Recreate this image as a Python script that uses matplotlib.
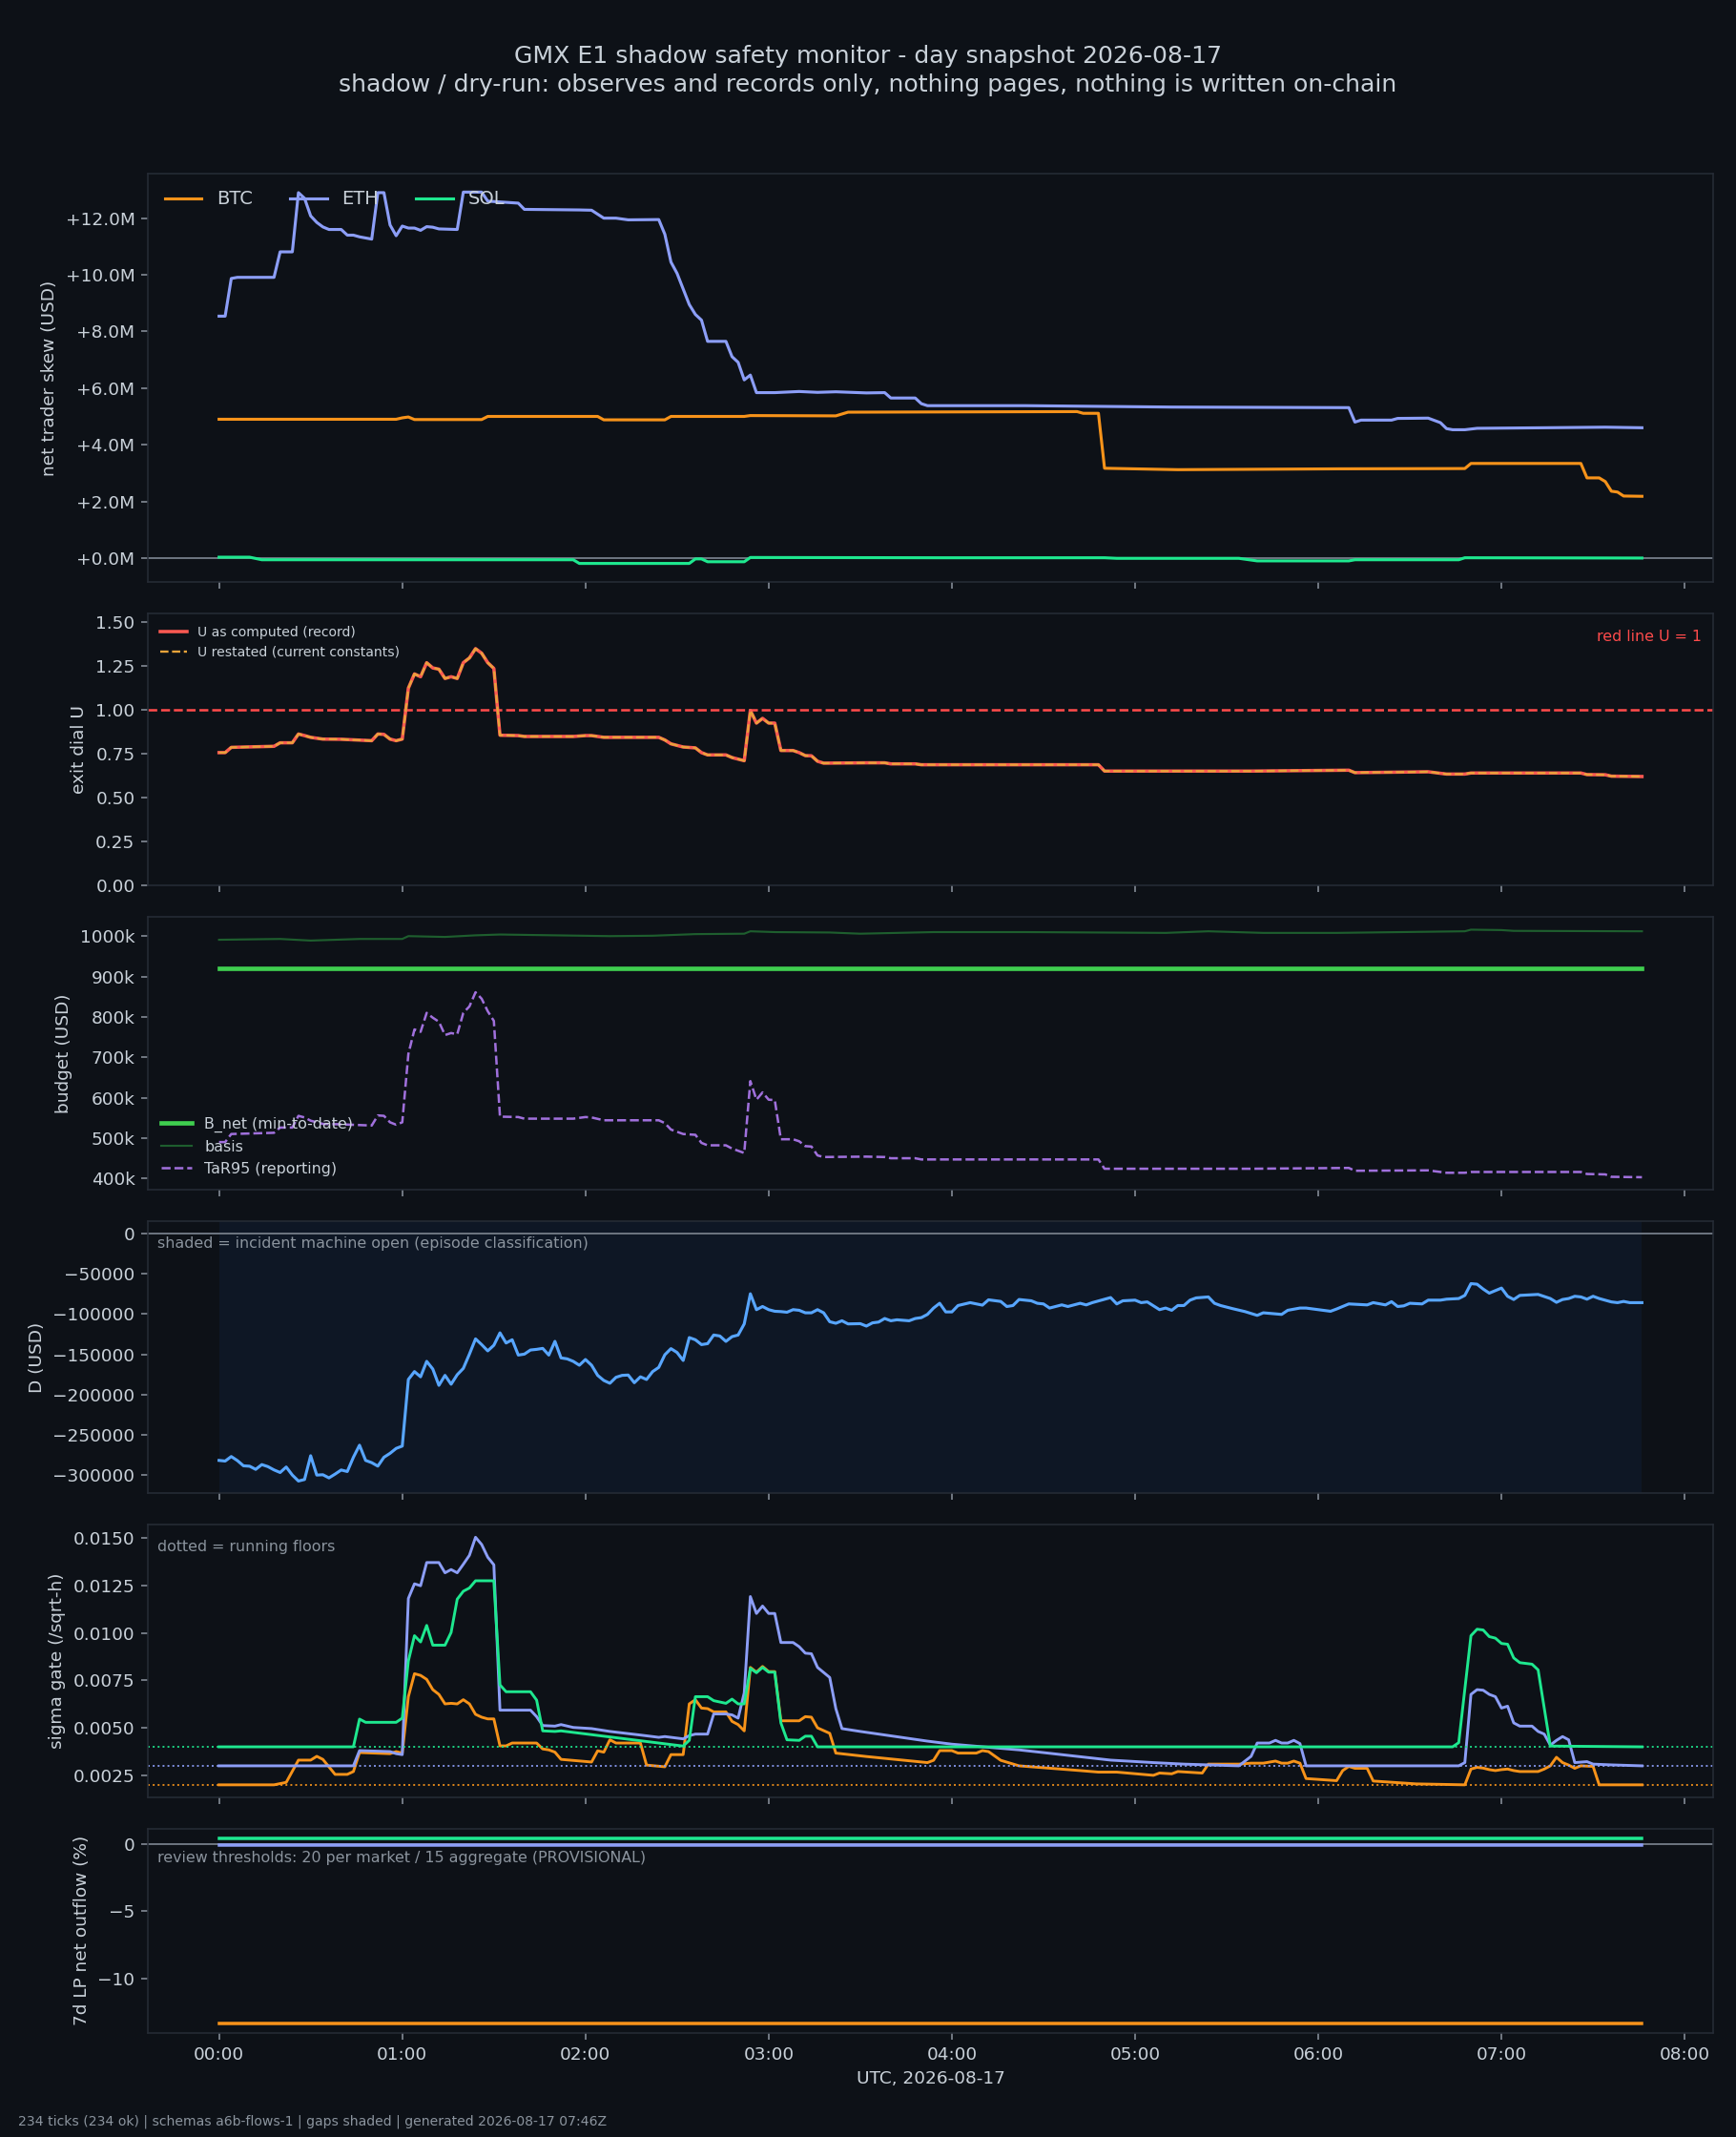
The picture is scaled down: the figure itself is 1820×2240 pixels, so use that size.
import pandas as pd
import matplotlib
matplotlib.use("Agg")
import matplotlib.pyplot as plt
import matplotlib.dates as mdates
from matplotlib.ticker import FuncFormatter

DAY = "2026-08-17"

# net trader skew, USD millions
skew_btc_t = [0, 58, 60, 62, 64, 86, 88, 124, 126, 146, 148, 172, 174, 202, 206, 281, 283,
              288, 290, 314, 367, 408, 410, 446, 448, 452, 454, 456, 458, 460, 466]
skew_btc = [4.9, 4.9, 4.95, 4.98, 4.89, 4.89, 5.0, 5.0, 4.88, 4.88, 5.0, 5.0, 5.03, 5.02, 5.15,
            5.17, 5.11, 5.11, 3.17, 3.12, 3.15, 3.16, 3.34, 3.34, 2.83, 2.83, 2.70, 2.36, 2.33,
            2.19, 2.18]
skew_eth_t = [0, 2, 4, 6, 18, 20, 24, 26, 28, 30, 32, 34, 36, 40, 42, 44, 46, 50, 52, 54, 56,
              58, 60, 62, 64, 66, 68, 70, 72, 78, 80, 86, 88, 98, 100, 118, 122, 126, 130, 134,
              144, 146, 148, 150, 152, 154, 156, 158, 160, 166, 168, 170, 172, 174, 176, 182,
              190, 196, 202, 212, 218, 220, 228, 230, 232, 264, 312, 370, 372, 374, 384, 386,
              396, 400, 402, 404, 408, 412, 434, 454, 466]
skew_eth = [8.54, 8.54, 9.87, 9.91, 9.91, 10.81, 10.81, 12.9, 12.7, 12.08, 11.85, 11.69, 11.6,
            11.6, 11.4, 11.4, 11.34, 11.26, 12.9, 12.9, 11.76, 11.38, 11.72, 11.65, 11.65, 11.57,
            11.7, 11.68, 11.62, 11.6, 12.92, 12.92, 12.6, 12.53, 12.31, 12.29, 12.28, 12.0, 12.0,
            11.94, 11.95, 11.43, 10.45, 10.05, 9.5, 8.95, 8.6, 8.4, 7.65, 7.65, 7.11, 6.91, 6.29,
            6.46, 5.84, 5.84, 5.88, 5.85, 5.87, 5.83, 5.84, 5.65, 5.65, 5.45, 5.38, 5.38, 5.33,
            5.31, 4.80, 4.87, 4.87, 4.93, 4.94, 4.78, 4.57, 4.53, 4.53, 4.58, 4.6, 4.62, 4.6]
skew_sol_t = [0, 10, 14, 116, 118, 154, 156, 158, 160, 172, 174, 236, 290, 294, 334, 340, 370,
              372, 406, 408, 466]
skew_sol = [0.03, 0.03, -0.06, -0.06, -0.19, -0.19, -0.03, -0.03, -0.13, -0.13, 0.02, 0.01,
            0.01, -0.01, -0.01, -0.10, -0.10, -0.06, -0.06, 0.01, 0.0]

# exit dial U and TaR95 (USD thousands) share the same breakpoints
u_t = [0, 2, 4, 18, 20, 24, 26, 28, 30, 34, 40, 50, 52, 54, 56, 58, 60, 62, 64, 66, 68, 70, 72,
       74, 76, 78, 80, 82, 84, 86, 88, 90, 92, 98, 100, 116, 120, 122, 126, 144, 146, 148, 152,
       156, 158, 160, 166, 168, 172, 174, 176, 178, 180, 182, 184, 188, 190, 192, 194, 196, 198,
       212, 218, 220, 228, 230, 288, 290, 338, 370, 372, 396, 402, 408, 410, 446, 448, 454, 456,
       466]
u_record = [0.758, 0.758, 0.788, 0.794, 0.814, 0.814, 0.864, 0.855, 0.845, 0.835,
            0.834, 0.826, 0.864, 0.862, 0.835, 0.826, 0.835, 1.125, 1.206, 1.19,
            1.27, 1.24, 1.233, 1.18, 1.19, 1.18, 1.27, 1.297, 1.35, 1.324,
            1.27, 1.237, 0.857, 0.855, 0.85, 0.85, 0.855, 0.855, 0.845, 0.845,
            0.83, 0.808, 0.79, 0.785, 0.758, 0.745, 0.745, 0.73, 0.712, 0.998,
            0.926, 0.953, 0.926, 0.926, 0.77, 0.77, 0.758, 0.741, 0.74, 0.709,
            0.698, 0.70, 0.70, 0.694, 0.694, 0.689, 0.689, 0.653, 0.653, 0.658,
            0.644, 0.649, 0.636, 0.636, 0.642, 0.642, 0.633, 0.632, 0.624, 0.622]
u_restated = list(u_record)  # restated values coincide with the record on this day
tar95_k = [490, 490, 510, 513, 526, 526, 555, 551, 543, 535,
           534, 531, 556, 555, 539, 533, 539, 708, 769, 763,
           810, 798, 788, 755, 760, 757, 810, 826, 861, 845,
           814, 790, 553, 552, 548, 548, 552, 551, 544, 544,
           537, 521, 510, 508, 488, 482, 482, 474, 463, 641,
           595, 613, 595, 594, 497, 497, 492, 480, 479, 457,
           453, 454, 453, 450, 450, 447, 447, 424, 424, 426,
           419, 420, 414, 414, 416, 416, 411, 410, 404, 403]

# budget, USD thousands
bnet_t = [0, 466]
bnet_k = [920, 920]
basis_t = [0, 20, 30, 46, 60, 62, 74, 84, 92, 110, 128, 142, 156, 172, 174, 182, 200, 210, 234,
           264, 310, 324, 342, 366, 408, 410, 420, 424, 466]
basis_k = [991, 993, 989, 993, 993, 1000, 998, 1002, 1004, 1002, 1000, 1001, 1005, 1006, 1012,
           1010, 1009, 1006, 1010, 1010, 1008, 1012, 1008, 1008, 1012, 1016, 1015, 1013, 1012]

# D, USD thousands
d_t = [0, 2, 4, 6, 8, 10, 12, 14, 16, 18, 20, 22, 24, 26, 28, 30, 32, 34, 36, 38, 40, 42, 44,
       46, 48, 50, 52, 54, 56, 58, 60, 62, 64, 66, 68, 70, 72, 74, 76, 78, 80, 82, 84, 86, 88,
       90, 92, 94, 96, 98, 100, 102, 104, 106, 108, 110, 112, 114, 116, 118, 120, 122, 124, 126,
       128, 130, 132, 134, 136, 138, 140, 142, 144, 146, 148, 150, 152, 154, 156, 158, 160, 162,
       164, 166, 168, 170, 172, 174, 176, 178, 180, 182, 184, 186, 188, 190, 192, 194, 196, 198,
       200, 202, 204, 206, 210, 212, 214, 216, 218, 220, 222, 226, 228, 230, 232, 234, 236, 238,
       240, 242, 246, 250, 252, 256, 258, 260, 262, 266, 268, 270, 272, 274, 276, 278, 282, 284,
       286, 292, 294, 296, 300, 302, 304, 308, 310, 312, 314, 316, 318, 320, 324, 326, 328, 332,
       336, 340, 342, 348, 350, 354, 356, 364, 366, 370, 376, 378, 382, 384, 386, 388, 390, 394,
       396, 400, 402, 406, 408, 410, 412, 414, 416, 420, 422, 424, 426, 432, 436, 438, 440, 442,
       444, 446, 448, 450, 452, 456, 458, 460, 462, 466]
d_k = [-281.8, -282.6, -277, -282, -288.5, -289, -292.9, -287, -289.5, -293.6, -296.8, -290,
       -300, -307.4, -305.5, -276, -300, -299.6, -303.5, -298.8, -293.7, -295.6, -277.9, -262.9,
       -281.8, -284.6, -288.9, -277.9, -273, -266.9, -264, -181.3, -171.5, -178, -158.8, -168.3,
       -188.6, -176.2, -187.2, -175.4, -167.5, -149.8, -130.9, -138, -145.8, -138.8, -123.4,
       -136, -132, -151, -149.8, -144.7, -143.9, -142.7, -151, -134, -154.5, -155.7, -158.8,
       -163.6, -156.5, -163.6, -176.2, -182.5, -186, -178.6, -176.2, -175.8, -185.3, -178,
       -181.3, -171.5, -166.3, -150.6, -143, -147.8, -157.7, -129.3, -132, -138, -136.8, -126.1,
       -127.3, -134, -128.1, -126.1, -112.3, -74.9, -94.6, -90.7, -94.6, -96.6, -97, -97.8,
       -94.6, -95.4, -98.5, -98.5, -94.6, -98.5, -109.6, -111.5, -108.4, -112.3, -112, -115,
       -111, -110, -105.6, -108.4, -107.2, -108.4, -105.6, -104.5, -100.5, -92.6, -86.7, -97.4,
       -97.4, -89.5, -85.9, -89, -82.4, -84.4, -90.7, -89.5, -82, -83.6, -86.7, -87.5, -92.6,
       -90.7, -88.7, -90.7, -86.7, -88.7, -85.9, -79.6, -87.5, -83.6, -82.8, -85.9, -85, -94.6,
       -92.6, -95.4, -89.5, -89.5, -82.8, -80, -78.8, -86.7, -89.5, -93.4, -97, -101.7, -98.5,
       -100.5, -95.4, -92.6, -92.6, -96.6, -93.8, -87.5, -88.7, -85.9, -88.7, -84.7, -90.7,
       -89.9, -86.7, -87.5, -82.8, -82.8, -81.6, -80.8, -76.9, -62.3, -63, -69, -74.1, -67.8,
       -78, -82, -76.9, -75.7, -80.8, -85.5, -82, -80.8, -78, -78.8, -81.6, -78, -80.8, -85,
       -85.9, -84.4, -85.9, -85.9]
incident_open = (0, 466)

# sigma gate, units of 1e-4 per sqrt-hour
sig_btc_t = [0, 18, 22, 26, 30, 32, 34, 38, 42, 44, 46, 56, 58, 60, 62, 64, 66, 68, 70, 72, 74,
             76, 78, 80, 82, 84, 86, 88, 90, 92, 94, 96, 104, 106, 108, 110, 112, 122, 124, 126,
             128, 130, 138, 140, 146, 148, 152, 154, 156, 158, 160, 162, 166, 168, 170, 172, 174,
             176, 178, 180, 182, 184, 190, 192, 194, 196, 200, 202, 212, 232, 234, 236, 240, 242,
             248, 250, 252, 256, 262, 282, 288, 294, 306, 308, 312, 314, 322, 324, 334, 338, 342,
             346, 348, 350, 352, 354, 356, 366, 368, 370, 372, 376, 378, 392, 408, 410, 412, 414,
             416, 418, 420, 422, 424, 426, 432, 434, 436, 438, 440, 442, 444, 446, 450, 452, 466]
sig_btc = [20, 20, 21.3, 33, 33, 35, 33.4, 25.5, 25.5, 27, 37, 36.4, 37.5, 36.7, 66.4, 78.5,
           77.6, 75.5, 70.1, 67.6, 62.6, 62.9, 62.6, 64.8, 62.6, 57.1, 55.6, 54.7, 54.7, 40.5,
           40.5, 42, 42, 38.9, 38.4, 37.2, 33.4, 32, 37.9, 37.2, 43.7, 42, 42, 30.4, 29.5, 35.9,
           35.9, 62.6, 64.8, 60.4, 60.1, 58.4, 58.4, 53.4, 51.7, 48.4, 81.8, 79.3, 82.3, 79.6,
           79.6, 53.7, 53.7, 55.9, 55.6, 50, 47.1, 36.7, 34.9, 31.7, 32.9, 38, 38, 36.7, 36.7,
           38, 37.5, 32.9, 30, 27.5, 26.7, 26.7, 25, 26.2, 25.8, 27, 26.2, 30.9, 30.9, 31.4,
           31.4, 32.5, 31.4, 31.4, 32.5, 31.4, 23.3, 22.2, 27.5, 29.7, 28.7, 28.7, 22, 20.5, 20,
           28.3, 29.2, 28.8, 28, 27.5, 28, 28.3, 27.5, 27, 27, 28.3, 30, 34.5, 31.7, 30.4, 28.7,
           30, 29.7, 20, 20]
sig_eth_t = [0, 44, 46, 56, 58, 60, 62, 64, 66, 68, 72, 74, 76, 78, 80, 82, 84, 86, 88, 90, 92,
             102, 104, 106, 110, 112, 116, 122, 128, 138, 144, 146, 152, 154, 156, 160, 162, 166,
             168, 170, 172, 174, 176, 178, 180, 182, 184, 188, 190, 192, 194, 196, 200, 202, 204,
             210, 232, 240, 262, 292, 306, 316, 334, 336, 338, 340, 344, 346, 348, 350, 352, 354,
             356, 406, 408, 410, 412, 414, 416, 418, 420, 422, 424, 426, 430, 432, 434, 436, 438,
             440, 442, 444, 448, 450, 456, 466]
sig_eth = [30, 30, 38, 37.5, 36.4, 35.9, 118.1, 125.8, 124.8, 137, 137, 131.6, 133.3, 131.6,
           136.1, 140.8, 150.3, 146.5, 139.8, 135.8, 59.3, 59.3, 55.9, 51.2, 50.9, 51.7, 50.2,
           49.6, 48.1, 46.2, 45, 45.4, 44.2, 45.9, 46.7, 46.7, 57.3, 57.3, 56.8, 55.1, 68.4,
           119.1, 110.2, 114.1, 110.2, 110.2, 94.9, 94.9, 92.7, 89.3, 89, 81.8, 76.5, 60.1, 49.6,
           48.1, 43, 41.4, 38.4, 33, 31.7, 30.9, 30, 32.5, 35, 42, 42, 43.4, 42, 42, 43.4, 41.7,
           30, 30, 31.7, 67.6, 70.1, 69.8, 67.6, 66.4, 60.4, 61.4, 52.6, 50.9, 50.9, 48.1, 46.7,
           40.9, 43.4, 45.4, 43.7, 31.7, 32.2, 30.9, 30.5, 30]
sig_sol_t = [0, 44, 46, 48, 58, 60, 62, 64, 66, 68, 70, 74, 76, 78, 80, 82, 84, 90, 92, 94, 102,
             104, 106, 110, 112, 152, 154, 156, 160, 162, 166, 168, 170, 172, 174, 176, 178, 180,
             182, 184, 186, 190, 192, 194, 196, 404, 406, 410, 412, 414, 416, 418, 420, 422, 424,
             426, 430, 432, 436, 466]
sig_sol = [40, 40, 54.6, 52.9, 52.9, 55.1, 85.2, 98.5, 95.2, 103.9, 93.5, 93.5, 100.2, 117.7,
           121.9, 123.6, 127.4, 127.4, 72.6, 69, 69, 64.6, 48.4, 48.1, 48.4, 40.4, 43.4, 66.4,
           66.4, 64.3, 62.9, 65.1, 62.6, 62.6, 81.3, 79, 81.8, 79.3, 79.3, 52.6, 43.7, 43.4, 45.6,
           45.6, 40, 40, 42.2, 98.5, 101.9, 101.5, 98, 97.2, 94.4, 94, 86.8, 84.3, 83.5, 80.5,
           40.4, 40]
sig_floor = {"BTC": 20, "ETH": 30, "SOL": 40}

# 7d LP net outflow, percent (flat over the day)
lp_t = [0, 466]
lp_btc = [-13.39, -13.39]
lp_eth = [-0.07, -0.07]
lp_sol = [0.45, 0.45]

# --- styling ---
BG = "#0d1117"
FG = "#c9d1d9"
MUTED = "#8b949e"
COL = {"BTC": "#f7931a", "ETH": "#8c9ef7", "SOL": "#1ee88f"}

plt.rcParams.update({
    "figure.facecolor": BG, "axes.facecolor": BG, "savefig.facecolor": BG,
    "axes.edgecolor": "#262c36", "axes.labelcolor": FG, "text.color": FG,
    "xtick.color": MUTED, "ytick.color": MUTED,
    "xtick.labelcolor": FG, "ytick.labelcolor": FG,
    "font.size": 9.5, "legend.frameon": False,
})

base = pd.Timestamp(DAY)


def when(minutes):
    return base + pd.to_timedelta(minutes, unit="min")


fig, axes = plt.subplots(6, 1, figsize=(13, 16), dpi=140, sharex=True,
                         gridspec_kw=dict(height_ratios=[1.5, 1, 1, 1, 1, 0.75]))
fig.subplots_adjust(left=0.0852, right=0.9868, top=0.9188, bottom=0.0487, hspace=0.111)
ax1, ax2, ax3, ax4, ax5, ax6 = axes

# 1. net trader skew
ax1.axhline(0, color="#6e7681", lw=1)
ax1.plot(when(skew_btc_t), skew_btc, color=COL["BTC"], lw=1.6, label="BTC")
ax1.plot(when(skew_eth_t), skew_eth, color=COL["ETH"], lw=1.6, label="ETH")
ax1.plot(when(skew_sol_t), skew_sol, color=COL["SOL"], lw=1.6, label="SOL")
ax1.yaxis.set_major_formatter(FuncFormatter(lambda v, p: f"{v:+.1f}M"))
ax1.set_ylabel("net trader skew (USD)")
ax1.legend(loc="upper left", ncol=3, fontsize=10)

# 2. exit dial
ax2.axhline(1.0, color="#ff4b4b", lw=1.3, ls="--")
ax2.plot(when(u_t), u_record, color="#ff5a52", lw=1.8, label="U as computed (record)")
ax2.plot(when(u_t), u_restated, color="#e8a33a", lw=1.2, ls="--",
         label="U restated (current constants)")
ax2.set_ylim(0, 1.55)
ax2.set_ylabel("exit dial U")
ax2.text(0.993, 0.94, "red line U = 1", transform=ax2.transAxes, ha="right", va="top",
         color="#ff4b4b", fontsize=8.2)
ax2.legend(loc="upper left", fontsize=7.2)

# 3. budget
ax3.plot(when(bnet_t), bnet_k, color="#3fce4f", lw=2.4, label="B_net (min-to-date)")
ax3.plot(when(basis_t), basis_k, color="#1e5e2e", lw=1.1, label="basis")
ax3.plot(when(u_t), tar95_k, color="#a070dc", lw=1.3, ls="--", label="TaR95 (reporting)")
ax3.yaxis.set_major_formatter(FuncFormatter(lambda v, p: f"{v:.0f}k"))
ax3.set_ylabel("budget (USD)")
ax3.legend(loc="lower left", fontsize=8.2)

# 4. D
ax4.axvspan(when(incident_open[0]), when(incident_open[1]), color="#1f6feb", alpha=0.07, lw=0)
ax4.axhline(0, color="#6e7681", lw=1)
ax4.plot(when(d_t), [v * 1000 for v in d_k], color="#58a6ff", lw=1.6)
ax4.set_ylabel("D (USD)")
ax4.text(0.006, 0.945, "shaded = incident machine open (episode classification)",
         transform=ax4.transAxes, ha="left", va="top", color=MUTED, fontsize=8.2)

# 5. sigma gate
for name, t, v in (("BTC", sig_btc_t, sig_btc), ("ETH", sig_eth_t, sig_eth),
                   ("SOL", sig_sol_t, sig_sol)):
    ax5.plot(when(t), [x * 1e-4 for x in v], color=COL[name], lw=1.5)
    ax5.axhline(sig_floor[name] * 1e-4, color=COL[name], lw=1, ls=":", alpha=0.9)
ax5.set_ylabel("sigma gate (/sqrt-h)")
ax5.text(0.006, 0.945, "dotted = running floors", transform=ax5.transAxes,
         ha="left", va="top", color=MUTED, fontsize=8.2)

# 6. LP outflow
ax6.axhline(0, color="#6e7681", lw=1)
ax6.plot(when(lp_t), lp_btc, color=COL["BTC"], lw=1.8)
ax6.plot(when(lp_t), lp_eth, color=COL["ETH"], lw=1.8)
ax6.plot(when(lp_t), lp_sol, color=COL["SOL"], lw=1.8)
ax6.set_ylabel("7d LP net outflow (%)")
ax6.text(0.006, 0.89, "review thresholds: 20 per market / 15 aggregate (PROVISIONAL)",
         transform=ax6.transAxes, ha="left", va="top", color=MUTED, fontsize=8.2)

ax6.xaxis.set_major_locator(mdates.HourLocator())
ax6.xaxis.set_major_formatter(mdates.DateFormatter("%H:%M"))
ax6.set_xlabel(f"UTC, {DAY}")

fig.text(0.5, 0.979,
         f"GMX E1 shadow safety monitor - day snapshot {DAY}\n"
         "shadow / dry-run: observes and records only, nothing pages, nothing is written on-chain",
         ha="center", va="top", fontsize=12.9, color=FG, linespacing=1.3)
fig.text(0.0102, 0.0071,
         f"234 ticks (234 ok) | schemas a6b-flows-1 | gaps shaded | generated {DAY} 07:46Z",
         ha="left", va="center", fontsize=7.2, color=MUTED)

fig.savefig("out.png", dpi=140)
